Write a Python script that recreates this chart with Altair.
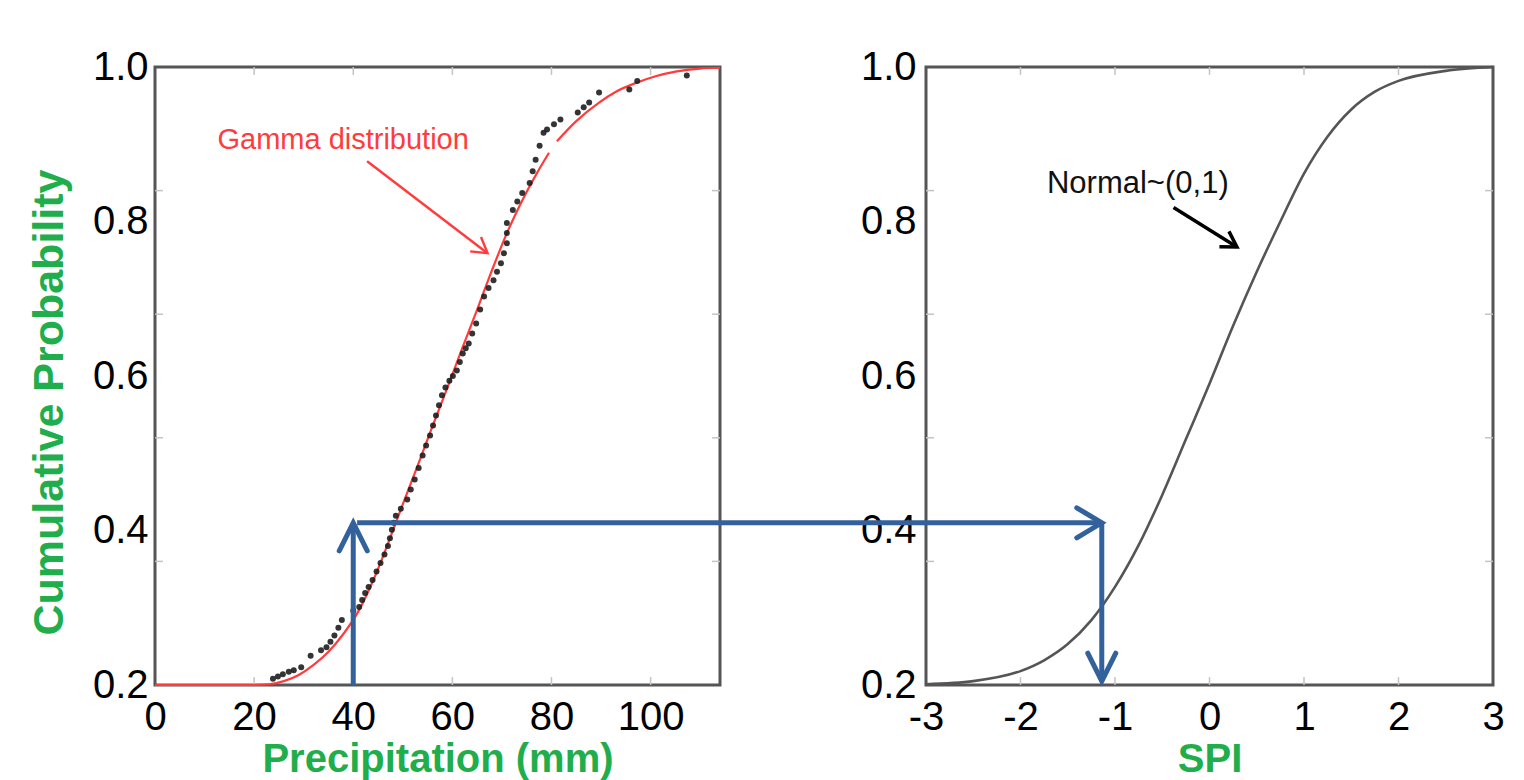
import altair as alt
import pandas as pd

# ---------------- data ----------------
# Left panel: empirical cumulative probabilities (black dots)
obs_precip = [23.8, 24.8, 25.8, 27.0, 28.0, 29.5, 31.4, 33.5, 34.6, 35.4, 36.2, 37.0, 37.7,
              40.0, 41.2, 41.8, 42.4, 43.1, 43.9, 44.7, 45.5, 46.3, 47.0, 47.4, 47.8, 48.2,
              48.6, 49.6, 50.9, 51.6, 52.4, 53.2, 54.0, 54.7, 55.5, 56.1, 56.7, 57.3, 57.9,
              58.6, 59.4, 60.1, 60.9, 61.5, 62.1, 62.7, 63.3, 64.0, 64.8, 65.6, 66.4, 67.3,
              68.3, 69.0, 69.8, 70.4, 71.0, 71.0, 71.0, 72.2, 73.1, 74.1, 75.6, 76.2, 76.8,
              77.6, 78.4, 79.1, 80.5, 81.8, 85.3, 86.5, 87.6, 89.6, 95.7, 97.3, 107.3]
obs_prob = [0.208, 0.211, 0.214, 0.217, 0.219, 0.223, 0.238, 0.245, 0.249, 0.256, 0.264, 0.274,
            0.284, 0.296, 0.301, 0.310, 0.319, 0.327, 0.336, 0.347, 0.358, 0.369, 0.380, 0.390,
            0.401, 0.410, 0.419, 0.428, 0.440, 0.453, 0.466, 0.481, 0.497, 0.510, 0.523, 0.536,
            0.549, 0.562, 0.575, 0.585, 0.594, 0.600, 0.607, 0.618, 0.629, 0.636, 0.642, 0.655,
            0.668, 0.686, 0.703, 0.714, 0.724, 0.735, 0.746, 0.759, 0.772, 0.785, 0.798, 0.815,
            0.826, 0.837, 0.850, 0.865, 0.880, 0.898, 0.915, 0.919, 0.926, 0.932, 0.941, 0.948,
            0.954, 0.967, 0.971, 0.982, 0.989]

# Left panel: fitted gamma CDF (red line, drawn in two pieces)
gamma_precip_a = [0, 10, 20, 23, 26, 29, 32, 35, 38, 41, 44, 47, 50, 53, 56, 59, 62, 65,
                  68, 71, 74, 77, 79.5]
gamma_prob_a = [0.200, 0.200, 0.200, 0.201, 0.205, 0.213, 0.226, 0.243, 0.266, 0.295, 0.335,
                0.383, 0.434, 0.484, 0.535, 0.585, 0.636, 0.686, 0.737, 0.785, 0.826, 0.862,
                0.889]
gamma_precip_b = [81.1, 85.0, 89.6, 93.0, 97.3, 101.0, 105.0, 110.0, 114.0]
gamma_prob_b = [0.904, 0.930, 0.954, 0.968, 0.980, 0.988, 0.994, 0.998, 0.999]

# Right panel: standard normal CDF (grey line)
spi_values = [-3.0, -2.5, -2.0, -1.75, -1.5, -1.25, -1.0, -0.75, -0.5, -0.25, 0.0, 0.25,
              0.5, 0.75, 1.0, 1.25, 1.5, 1.75, 2.0, 2.5, 3.0]
spi_prob = [0.201, 0.205, 0.218, 0.232, 0.253, 0.284, 0.327, 0.381, 0.446, 0.518, 0.590,
            0.665, 0.735, 0.800, 0.862, 0.910, 0.945, 0.968, 0.982, 0.995, 1.000]

# Tick labels
precip_ticks = [0, 20, 40, 60, 80, 100]
spi_ticks = [-3, -2, -1, 0, 1, 2, 3]
prob_ticks = [0.2, 0.4, 0.6, 0.8, 1.0]
inner_prob_ticks = [0.36, 0.52, 0.68, 0.84]

# Annotations
gamma_label = "Gamma distribution"
gamma_label_pos = [12.6, 0.906]
gamma_arrow = [42.8, 0.878, 67.1, 0.759]
normal_label = "Normal~(0,1)"
normal_label_pos = [-1.72, 0.848]
normal_arrow = [-0.38, 0.818, 0.29, 0.767]
precip_example = 40
prob_example = 0.41
spi_example = -1.14
spi_arrow_start = -9.02   # left end of the horizontal arrow, in SPI units (reaches into the left panel)

# ---------------- styling ----------------
GREEN = "#1fae4b"
BLUE = "#33619c"
RED = "#ff3b3b"
FONT = "Liberation Sans"
X_DOM_L = [0, 114]
X_DOM_R = [-3, 3]
Y_DOM = [0.2, 1.0]
W_L, W_R, H = 565, 567, 618


def xs(dom):
    return alt.Scale(domain=dom, nice=False, zero=False)


ys = alt.Scale(domain=Y_DOM, nice=False, zero=False)

axis_common = dict(domain=False, ticks=False, grid=False, labelFont=FONT, labelFontSize=40,
                   labelColor="#000000", titleFont=FONT,
                   titleFontWeight="bold", titleColor=GREEN, labelOverlap=False)

x_axis_l = alt.Axis(values=precip_ticks, labelFlush=False, labelPadding=12, titlePadding=2,
                    titleFontSize=40, title="Precipitation (mm)", **axis_common)
y_axis_l = alt.Axis(values=prob_ticks, format=".1f", labelPadding=7, titlePadding=21,
                    titleFontSize=43, titleY=335, title="Cumulative Probability", **axis_common)
x_axis_r = alt.Axis(values=spi_ticks, labelFlush=False, labelPadding=12, titlePadding=2,
                    titleFontSize=40, labelExpr="'' + datum.value", title="SPI", **axis_common)
y_axis_r = alt.Axis(values=prob_ticks, format=".1f", labelPadding=10, title=None, **axis_common)

# chevron arrow heads (custom symbol paths, tip at the data point)
HEAD_RIGHT = "M-1,-0.6L0,0L-1,0.6"
HEAD_UP = "M-0.5,1L0,0L0.5,1"
HEAD_DOWN = "M-0.5,-1L0,0L0.5,-1"


def xl(f):
    return alt.X(f, type="quantitative", scale=xs(X_DOM_L), axis=x_axis_l)


def yl(f):
    return alt.Y(f, type="quantitative", scale=ys, axis=y_axis_l)


def xr(f):
    return alt.X(f, type="quantitative", scale=xs(X_DOM_R), axis=x_axis_r)


def yr(f):
    return alt.Y(f, type="quantitative", scale=ys, axis=y_axis_r)


tick_len_y = 8 / (H / (Y_DOM[1] - Y_DOM[0]))
TICK_STYLE = dict(color="#c4c4c4", strokeWidth=1.5)

# ---------------- left panel ----------------
gamma_df = pd.DataFrame({
    "p": gamma_precip_a + gamma_precip_b,
    "c": gamma_prob_a + gamma_prob_b,
    "seg": ["a"] * len(gamma_precip_a) + ["b"] * len(gamma_precip_b),
})
obs_df = pd.DataFrame({"p": obs_precip, "c": obs_prob})

tick_len_l = 8 / (W_L / (X_DOM_L[1] - X_DOM_L[0]))
ticks_l_x = pd.DataFrame({"x": precip_ticks[1:] * 2,
                          "y0": [Y_DOM[0]] * 5 + [Y_DOM[1]] * 5,
                          "y1": [Y_DOM[0] + tick_len_y] * 5 + [Y_DOM[1] - tick_len_y] * 5})
ticks_l_y = pd.DataFrame({"y": inner_prob_ticks * 2,
                          "x0": [X_DOM_L[0]] * 4 + [X_DOM_L[1]] * 4,
                          "x1": [X_DOM_L[0] + tick_len_l] * 4 + [X_DOM_L[1] - tick_len_l] * 4})

l_ticks_x = alt.Chart(ticks_l_x).mark_rule(**TICK_STYLE).encode(x=xl("x"), y=yl("y0"), y2="y1")
l_ticks_y = alt.Chart(ticks_l_y).mark_rule(**TICK_STYLE).encode(x=xl("x0"), x2="x1", y=yl("y"))

l_gamma = alt.Chart(gamma_df).mark_line(color=RED, strokeWidth=2.2, interpolate="monotone").encode(
    x=xl("p"), y=yl("c"), detail="seg:N")
l_obs = alt.Chart(obs_df).mark_point(filled=True, color="#1e1e1e", size=36, opacity=0.9).encode(
    x=xl("p"), y=yl("c"))

l_text = alt.Chart(pd.DataFrame({"x": [gamma_label_pos[0]], "y": [gamma_label_pos[1]],
                                 "t": [gamma_label]})).mark_text(
    align="left", baseline="middle", font=FONT, fontSize=29, color=RED).encode(
    x=xl("x"), y=yl("y"), text="t:N")

g_arrow_df = pd.DataFrame({"x0": [gamma_arrow[0]], "y0": [gamma_arrow[1]],
                           "x1": [gamma_arrow[2]], "y1": [gamma_arrow[3]]})
l_garrow = alt.Chart(g_arrow_df).mark_rule(color=RED, strokeWidth=2.4).encode(
    x=xl("x0"), y=yl("y0"), x2="x1", y2="y1")
l_ghead = alt.Chart(g_arrow_df).mark_point(shape=HEAD_RIGHT, size=900, filled=False, color=RED,
                                           strokeWidth=2.4, opacity=1, angle=37).encode(
    x=xl("x1"), y=yl("y1"))

up_df = pd.DataFrame({"x": [precip_example], "y0": [Y_DOM[0]], "y1": [prob_example]})
l_up = alt.Chart(up_df).mark_rule(color=BLUE, strokeWidth=5).encode(
    x=xl("x"), y=yl("y0"), y2="y1")
l_uphead = alt.Chart(up_df).mark_point(shape=HEAD_UP, size=3136, filled=False, color=BLUE,
                                       strokeWidth=5, opacity=1, strokeCap="round").encode(
    x=xl("x"), y=yl("y1"))

left = alt.layer(l_ticks_x, l_ticks_y, l_gamma, l_obs, l_text, l_garrow, l_ghead,
                 l_up, l_uphead).properties(width=W_L, height=H)

# ---------------- right panel ----------------
norm_df = pd.DataFrame({"s": spi_values, "c": spi_prob})

tick_len_r = 8 / (W_R / (X_DOM_R[1] - X_DOM_R[0]))
ticks_r_x = pd.DataFrame({"x": spi_ticks[1:-1] * 2,
                          "y0": [Y_DOM[0]] * 5 + [Y_DOM[1]] * 5,
                          "y1": [Y_DOM[0] + tick_len_y] * 5 + [Y_DOM[1] - tick_len_y] * 5})
ticks_r_y = pd.DataFrame({"y": inner_prob_ticks * 2,
                          "x0": [X_DOM_R[0]] * 4 + [X_DOM_R[1]] * 4,
                          "x1": [X_DOM_R[0] + tick_len_r] * 4 + [X_DOM_R[1] - tick_len_r] * 4})
r_ticks_x = alt.Chart(ticks_r_x).mark_rule(**TICK_STYLE).encode(x=xr("x"), y=yr("y0"), y2="y1")
r_ticks_y = alt.Chart(ticks_r_y).mark_rule(**TICK_STYLE).encode(x=xr("x0"), x2="x1", y=yr("y"))

r_norm = alt.Chart(norm_df).mark_line(color="#555555", strokeWidth=2.6, interpolate="monotone").encode(
    x=xr("s"), y=yr("c"))

r_text = alt.Chart(pd.DataFrame({"x": [normal_label_pos[0]], "y": [normal_label_pos[1]],
                                 "t": [normal_label]})).mark_text(
    align="left", baseline="middle", font=FONT, fontSize=31, color="#111111").encode(
    x=xr("x"), y=yr("y"), text="t:N")

n_arrow_df = pd.DataFrame({"x0": [normal_arrow[0]], "y0": [normal_arrow[1]],
                           "x1": [normal_arrow[2]], "y1": [normal_arrow[3]]})
r_narrow = alt.Chart(n_arrow_df).mark_rule(color="#000000", strokeWidth=3.5).encode(
    x=xr("x0"), y=yr("y0"), x2="x1", y2="y1")
r_nhead = alt.Chart(n_arrow_df).mark_point(shape=HEAD_RIGHT, size=900, filled=False, color="#000000",
                                           strokeWidth=3.5, opacity=1, angle=32).encode(
    x=xr("x1"), y=yr("y1"))

h_df = pd.DataFrame({"x0": [spi_arrow_start], "x1": [spi_example], "y": [prob_example]})
r_h = alt.Chart(h_df).mark_rule(color=BLUE, strokeWidth=5).encode(
    x=xr("x0"), x2="x1", y=yr("y"))
r_hhead = alt.Chart(h_df).mark_point(shape=HEAD_RIGHT, size=2500, filled=False, color=BLUE,
                                     strokeWidth=5, opacity=1, strokeCap="round").encode(
    x=xr("x1"), y=yr("y"))

down_df = pd.DataFrame({"x": [spi_example], "y0": [prob_example], "y1": [Y_DOM[0] + 0.005]})
r_down = alt.Chart(down_df).mark_rule(color=BLUE, strokeWidth=5).encode(
    x=xr("x"), y=yr("y0"), y2="y1")
r_downhead = alt.Chart(down_df).mark_point(shape=HEAD_DOWN, size=3136, filled=False, color=BLUE,
                                           strokeWidth=5, opacity=1, strokeCap="round").encode(
    x=xr("x"), y=yr("y1"))

right = alt.layer(r_ticks_x, r_ticks_y, r_norm, r_text, r_narrow, r_nhead,
                  r_h, r_hhead, r_down, r_downhead).properties(width=W_R, height=H)

chart = alt.hconcat(left, right, spacing=206, bounds="flush").properties(
    padding={"left": 18, "top": 37, "right": 5, "bottom": 0}
).configure_view(stroke="#555555", strokeWidth=3)

chart.save("out.html", embed_options={"renderer": "svg", "actions": False})
